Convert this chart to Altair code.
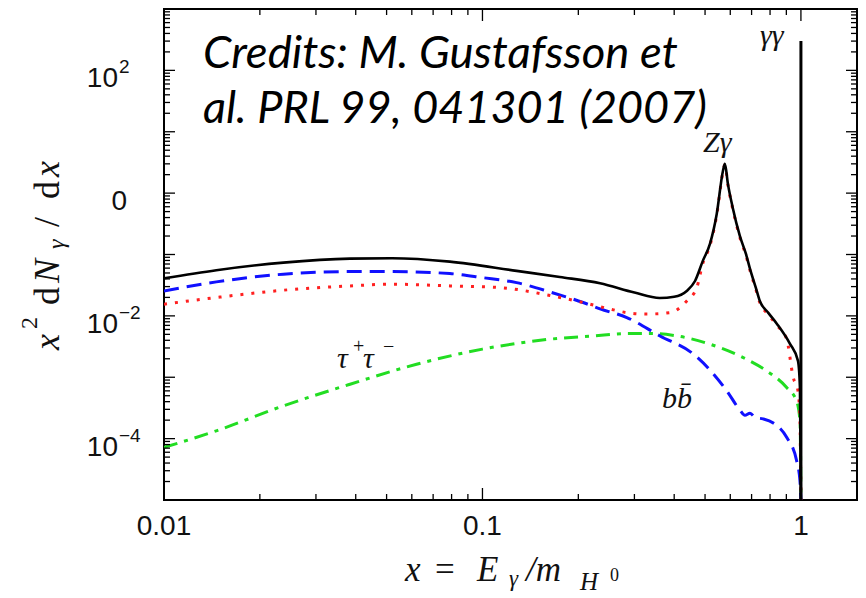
import altair as alt
import pandas as pd

# ---------------- data ----------------
X_TOTAL = [0.01, 0.0146, 0.0237, 0.0384, 0.052, 0.079, 0.128, 0.175, 0.234, 0.30, 0.36, 0.40,
           0.438, 0.465, 0.492, 0.518, 0.544, 0.569, 0.577, 0.59, 0.611, 0.643, 0.672, 0.692,
           0.722, 0.743, 0.79, 0.841, 0.924, 0.979, 0.993, 1.0]
Y_TOTAL = [0.041, 0.0555, 0.0738, 0.0857, 0.0871, 0.0766, 0.0541, 0.043, 0.034, 0.024, 0.0196, 0.0205,
           0.0255, 0.037, 0.0787, 0.149, 0.458, 2.3, 3.0, 1.4, 0.574, 0.201, 0.102, 0.0583,
           0.0286, 0.0175, 0.0112, 0.0074, 0.0035, 0.00185, 0.00067, 0.00001]

X_RED = [0.01, 0.0146, 0.0237, 0.0384, 0.052, 0.079, 0.1135, 0.163, 0.207, 0.25, 0.284, 0.328,
         0.388, 0.438, 0.471, 0.492, 0.518, 0.544, 0.569, 0.577, 0.59, 0.611, 0.643, 0.672,
         0.692, 0.722, 0.743, 0.79, 0.841, 0.902, 0.946, 0.979, 0.993, 1.0]
Y_RED = [0.0155, 0.0199, 0.0262, 0.0308, 0.0328, 0.0308, 0.0289, 0.0215, 0.0165, 0.013, 0.0113, 0.0107,
         0.0113, 0.0175, 0.0289, 0.072, 0.14, 0.44, 2.2, 2.9, 1.35, 0.55, 0.19, 0.097,
         0.055, 0.027, 0.0165, 0.0105, 0.007, 0.0042, 0.00099, 0.0006, 0.000195, 0.00001]

X_BB = [0.01, 0.0146, 0.0237, 0.0384, 0.052, 0.079, 0.1, 0.128, 0.163, 0.207, 0.234, 0.284,
        0.361, 0.459, 0.585, 0.644, 0.667, 0.692, 0.72, 0.76, 0.819, 0.902, 0.969, 0.993, 1.0]
Y_BB = [0.0255, 0.0358, 0.0478, 0.0527, 0.0527, 0.0489, 0.042, 0.0348, 0.0245, 0.0165, 0.013, 0.0094,
        0.0047, 0.0024, 0.0006, 0.00029, 0.00024, 0.00026, 0.00022, 0.00021, 0.00018, 0.000105,
        0.000044, 0.0000206, 0.00001]

X_TAU = [0.01, 0.0146, 0.0237, 0.0384, 0.0621, 0.1, 0.163, 0.223, 0.284, 0.344, 0.407, 0.518,
         0.659, 0.78, 0.902, 0.969, 0.993, 0.997, 1.0]
Y_TAU = [7.2e-5, 1.34e-4, 3.42e-4, 7.7e-4, 1.63e-3, 2.87e-3, 4.17e-3, 4.72e-3, 5.15e-3, 5.15e-3,
         4.72e-3, 3.46e-3, 2.09e-3, 1.27e-3, 6.8e-4, 4.1e-4, 1.95e-4, 7.2e-5, 1e-5]

X_GG = [1.0, 1.0]
Y_GG = [1e-5, 300.0]

X_DOMAIN = [0.01, 1.5]
Y_DOMAIN = [1e-5, 1e3]

X_MAJOR = [0.01, 0.1, 1.0]
X_MINOR = [m * d for d in (0.01, 0.1) for m in range(2, 10)]
Y_MAJOR = [10.0 ** k for k in range(-5, 4)]
Y_MINOR = [m * 10.0 ** k for k in range(-5, 3) for m in range(2, 10)]

X_LABEL_VALUES = [0.01, 0.1, 1.0]
X_LABEL_TEXT = ["0.01", "0.1", "1"]
Y_LABEL_VALUES = [1e2, 1e-2, 1e-4]
Y_LABEL_BASE = ["10", "10", "10"]
Y_LABEL_SUP = ["2", "\u22122", "\u22124"]
Y_ZERO_VALUE = [1.0]
Y_ZERO_TEXT = ["0"]

CREDITS = ["Credits: M. Gustafsson et", "al. PRL 99, 041301 (2007)"]

# ---------------- layout ----------------
W, H = 693, 491
xs = alt.Scale(type="log", domain=X_DOMAIN)
ys = alt.Scale(type="log", domain=Y_DOMAIN)
SERIF = "Liberation Serif"
SANS = "Liberation Sans"
INK = "#111111"


def curve(xv, yv, color, width, dash=None):
    df = pd.DataFrame({"x": xv, "y": yv, "o": list(range(len(xv)))})
    kw = dict(color=color, strokeWidth=width, clip=True, interpolate="monotone")
    if dash:
        kw["strokeDash"] = dash
    return alt.Chart(df).mark_line(**kw).encode(
        x=alt.X("x:Q", scale=xs, axis=None),
        y=alt.Y("y:Q", scale=ys, axis=None),
        order="o:Q",
    )


def yticks(vals, x0, x1):
    return alt.Chart(pd.DataFrame({"v": vals})).mark_rule(color="black", strokeWidth=1.3).encode(
        y=alt.Y("v:Q", scale=ys, axis=None), x=alt.value(x0), x2=alt.value(x1))


def xticks(vals, y0, y1):
    return alt.Chart(pd.DataFrame({"v": vals})).mark_rule(color="black", strokeWidth=1.3).encode(
        x=alt.X("v:Q", scale=xs, axis=None), y=alt.value(y0), y2=alt.value(y1))


def txt(s, x, y, size, style="italic", font=SERIF, align="left", angle=None, color=INK):
    kw = dict(align=align, baseline="alphabetic", fontSize=size, font=font,
              fontStyle=style, color=color)
    if angle is not None:
        kw["angle"] = angle
    return alt.Chart(pd.DataFrame({"t": [s]})).mark_text(**kw).encode(
        x=alt.value(x), y=alt.value(y), text="t:N")


layers = [
    curve(X_TAU, Y_TAU, "#22dd22", 3, [14, 7, 4, 7]),
    curve(X_BB, Y_BB, "#1010ff", 3, [15, 8]),
    curve(X_RED, Y_RED, "#ff2020", 3, [3, 8]),
    curve(X_TOTAL, Y_TOTAL, "black", 2.6),
    curve(X_GG, Y_GG, "black", 3),
    # ticks (inward, all four sides)
    yticks(Y_MAJOR, 0, 11), yticks(Y_MINOR, 0, 6),
    yticks(Y_MAJOR, W, W - 11), yticks(Y_MINOR, W, W - 6),
    xticks(X_MAJOR, H, H - 12), xticks(X_MINOR, H, H - 6),
    xticks(X_MAJOR, 0, 12), xticks(X_MINOR, 0, 6),
]

# x tick labels
xlab = pd.DataFrame({"v": X_LABEL_VALUES, "t": X_LABEL_TEXT})
layers.append(alt.Chart(xlab).mark_text(align="center", baseline="alphabetic", fontSize=28,
                                        font=SANS, color=INK).encode(
    x=alt.X("v:Q", scale=xs, axis=None), y=alt.value(H + 35), text="t:N"))

# y tick labels
ylab = pd.DataFrame({"v": Y_LABEL_VALUES, "b": Y_LABEL_BASE, "s": Y_LABEL_SUP})
layers.append(alt.Chart(ylab).mark_text(align="right", baseline="alphabetic", dy=17, fontSize=28,
                                        font=SANS, color=INK).encode(
    y=alt.Y("v:Q", scale=ys, axis=None), x=alt.value(-46), text="b:N"))
layers.append(alt.Chart(ylab).mark_text(align="left", baseline="alphabetic", dy=3, fontSize=19,
                                        font=SANS, color=INK).encode(
    y=alt.Y("v:Q", scale=ys, axis=None), x=alt.value(-45), text="s:N"))
yzero = pd.DataFrame({"v": Y_ZERO_VALUE, "t": Y_ZERO_TEXT})
layers.append(alt.Chart(yzero).mark_text(align="right", baseline="alphabetic", dy=17, fontSize=28,
                                         font=SANS, color=INK).encode(
    y=alt.Y("v:Q", scale=ys, axis=None), x=alt.value(-37), text="t:N"))

# x axis title: x = E_gamma / m_{H^0}
layers += [
    txt("x", 241, 572, 35),
    txt("=", 271, 572, 35, style="normal"),
    txt("E", 313, 572, 35),
    txt("\u03b3", 345, 577, 23),
    txt("/m", 362, 572, 35),
    txt("H", 416, 581, 25),
    txt("0", 446, 572, 18, style="normal"),
]

# y axis title: x^2 dN_gamma / dx (rotated)
layers += [
    txt("x", -105, 341, 36, angle=270),
    txt("2", -127, 320, 24, style="normal", angle=270),
    txt("d", -105, 296, 36, style="normal", angle=270),
    txt("N", -105, 274, 36, angle=270),
    txt("\u03b3", -100, 240, 24, angle=270),
    txt("/", -105, 218, 36, style="normal", angle=270),
    txt("d", -105, 190, 36, style="normal", angle=270),
    txt("x", -105, 168, 36, angle=270),
]

# in-plot annotations
layers += [
    txt("Z\u03b3", 539, 143, 30),
    txt("\u03b3\u03b3", 596, 36, 30),
    txt("\u03c4", 173, 359, 30),
    txt("+", 189, 344, 20, style="normal"),
    txt("\u03c4", 199, 359, 30),
    txt("\u2212", 219, 344, 20, style="normal"),
    txt("bb\u0304", 498, 399, 30),
    txt(CREDITS[0], 39, 59, 45.5, font="Lato", color="black"),
    txt(CREDITS[1], 39, 114, 45, font="Lato", color="black"),
]

chart = alt.layer(*layers).properties(
    width=W, height=H, autosize="none",
    padding={"left": 156, "top": 1, "right": 1, "bottom": 97},
).configure_view(stroke="black", strokeWidth=2)

chart.save("out.html", embed_options={"renderer": "svg", "actions": False})
